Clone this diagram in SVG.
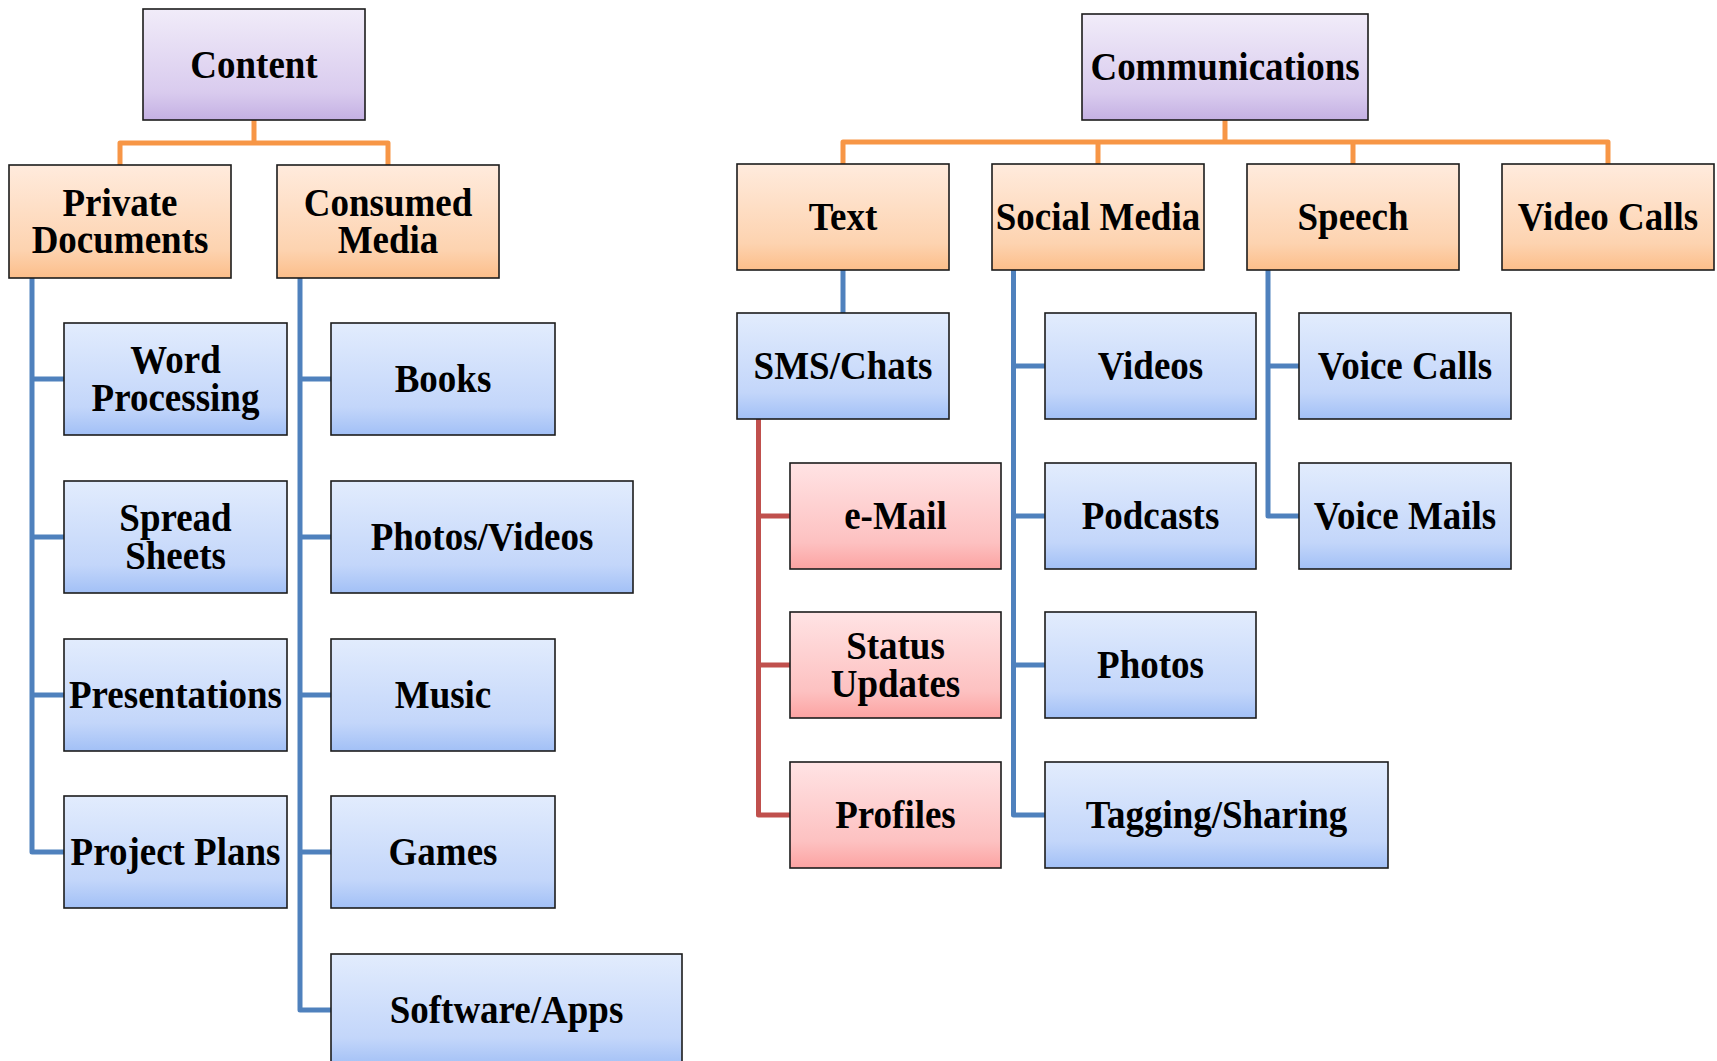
<svg xmlns="http://www.w3.org/2000/svg" width="1717" height="1061" viewBox="0 0 1717 1061">
  <defs>
    <linearGradient id="gPurple" x1="0" y1="0" x2="0" y2="1">
      <stop offset="0" stop-color="#F1ECF9"/>
      <stop offset="0.75" stop-color="#D9CBEE"/>
      <stop offset="1" stop-color="#C4B0E3"/>
    </linearGradient>
    <linearGradient id="gOrange" x1="0" y1="0" x2="0" y2="1">
      <stop offset="0" stop-color="#FFEBDD"/>
      <stop offset="0.75" stop-color="#FDD3B0"/>
      <stop offset="1" stop-color="#FCBE8A"/>
    </linearGradient>
    <linearGradient id="gBlue" x1="0" y1="0" x2="0" y2="1">
      <stop offset="0" stop-color="#E2ECFD"/>
      <stop offset="0.75" stop-color="#C3D6FA"/>
      <stop offset="1" stop-color="#A2C0F6"/>
    </linearGradient>
    <linearGradient id="gRed" x1="0" y1="0" x2="0" y2="1">
      <stop offset="0" stop-color="#FFE3E4"/>
      <stop offset="0.75" stop-color="#FDC1C1"/>
      <stop offset="1" stop-color="#FCA3A2"/>
    </linearGradient>
  </defs>
  <style>
    rect.box { stroke: #1c1c1c; stroke-width: 1.6; }
    rect.purple { fill: url(#gPurple); }
    rect.orange { fill: url(#gOrange); }
    rect.blue { fill: url(#gBlue); }
    rect.red { fill: url(#gRed); }
    text { font-family: "Liberation Serif", "Times New Roman", serif; font-weight: bold; font-size: 37px; fill: #000; text-anchor: middle; }
    .links path { fill: none; stroke-width: 5; stroke-linejoin: round; stroke-linecap: butt; }
    .links .o { stroke: #F79646; }
    .links .b { stroke: #4F81BD; }
    .links .r { stroke: #C0504D; }
  </style>
  <rect width="1717" height="1061" fill="#fff"/>

  <!-- connectors -->
  <g class="links" id="connectors">
    <!-- Content tree -->
    <path class="o" d="M254,120 V143 M120,165 V143 H388 V165"/>
    <path class="b" d="M32,278 V852 H64 M32,379 H64 M32,537 H64 M32,695 H64"/>
    <path class="b" d="M300,278 V1010 H331 M300,379 H331 M300,537 H331 M300,695 H331 M300,852 H331"/>
    <!-- Communications tree -->
    <path class="o" d="M1225,120 V142 M843,164 V142 H1608 V164 M1098,142 V164 M1353,142 V164"/>
    <path class="b" d="M843,270 V313"/>
    <path class="r" d="M758.5,419 V815 H790 M758.5,516 H790 M758.5,665 H790"/>
    <path class="b" d="M1013.5,270 V815 H1045 M1013.5,366 H1045 M1013.5,516 H1045 M1013.5,665 H1045"/>
    <path class="b" d="M1268,270 V516 H1299 M1268,366 H1299"/>
  </g>

  <!-- Content -->
  <g id="content">
    <rect class="box purple" x="143" y="9" width="222" height="111"/>
    <text transform="translate(254,77.5) scale(1,1.1)">Content</text>
  </g>
  <g id="private-documents">
    <rect class="box orange" x="9" y="165" width="222" height="113"/>
    <text transform="translate(120,215.5) scale(1,1.1)"><tspan x="0">Private</tspan><tspan x="0" dy="34.5">Documents</tspan></text>
  </g>
  <g id="consumed-media">
    <rect class="box orange" x="277" y="165" width="222" height="113"/>
    <text transform="translate(388,215.5) scale(1,1.1)"><tspan x="0">Consumed</tspan><tspan x="0" dy="34.5">Media</tspan></text>
  </g>
  <g id="word-processing">
    <rect class="box blue" x="64" y="323" width="223" height="112"/>
    <text transform="translate(175.5,373) scale(1,1.1)"><tspan x="0">Word</tspan><tspan x="0" dy="34.5">Processing</tspan></text>
  </g>
  <g id="spread-sheets">
    <rect class="box blue" x="64" y="481" width="223" height="112"/>
    <text transform="translate(175.5,531) scale(1,1.1)"><tspan x="0">Spread</tspan><tspan x="0" dy="34.5">Sheets</tspan></text>
  </g>
  <g id="presentations">
    <rect class="box blue" x="64" y="639" width="223" height="112"/>
    <text transform="translate(175.5,708) scale(1,1.1)">Presentations</text>
  </g>
  <g id="project-plans">
    <rect class="box blue" x="64" y="796" width="223" height="112"/>
    <text transform="translate(175.5,865) scale(1,1.1)">Project Plans</text>
  </g>
  <g id="books">
    <rect class="box blue" x="331" y="323" width="224" height="112"/>
    <text transform="translate(443,392) scale(1,1.1)">Books</text>
  </g>
  <g id="photos-videos">
    <rect class="box blue" x="331" y="481" width="302" height="112"/>
    <text transform="translate(482,550) scale(1,1.1)">Photos/Videos</text>
  </g>
  <g id="music">
    <rect class="box blue" x="331" y="639" width="224" height="112"/>
    <text transform="translate(443,708) scale(1,1.1)">Music</text>
  </g>
  <g id="games">
    <rect class="box blue" x="331" y="796" width="224" height="112"/>
    <text transform="translate(443,865) scale(1,1.1)">Games</text>
  </g>
  <g id="software-apps">
    <rect class="box blue" x="331" y="954" width="351" height="112"/>
    <text transform="translate(506.5,1023) scale(1,1.1)">Software/Apps</text>
  </g>

  <!-- Communications -->
  <g id="communications">
    <rect class="box purple" x="1082" y="14" width="286" height="106"/>
    <text transform="translate(1225,80) scale(1,1.1)">Communications</text>
  </g>
  <g id="text">
    <rect class="box orange" x="737" y="164" width="212" height="106"/>
    <text transform="translate(843,230) scale(1,1.1)">Text</text>
  </g>
  <g id="social-media">
    <rect class="box orange" x="992" y="164" width="212" height="106"/>
    <text transform="translate(1098,230) scale(1,1.1)">Social Media</text>
  </g>
  <g id="speech">
    <rect class="box orange" x="1247" y="164" width="212" height="106"/>
    <text transform="translate(1353,230) scale(1,1.1)">Speech</text>
  </g>
  <g id="video-calls">
    <rect class="box orange" x="1502" y="164" width="212" height="106"/>
    <text transform="translate(1608,230) scale(1,1.1)">Video Calls</text>
  </g>
  <g id="sms-chats">
    <rect class="box blue" x="737" y="313" width="212" height="106"/>
    <text transform="translate(843,379) scale(1,1.1)">SMS/Chats</text>
  </g>
  <g id="e-mail">
    <rect class="box red" x="790" y="463" width="211" height="106"/>
    <text transform="translate(895.5,529) scale(1,1.1)">e-Mail</text>
  </g>
  <g id="status-updates">
    <rect class="box red" x="790" y="612" width="211" height="106"/>
    <text transform="translate(895.5,659) scale(1,1.1)"><tspan x="0">Status</tspan><tspan x="0" dy="34.5">Updates</tspan></text>
  </g>
  <g id="profiles">
    <rect class="box red" x="790" y="762" width="211" height="106"/>
    <text transform="translate(895.5,828) scale(1,1.1)">Profiles</text>
  </g>
  <g id="videos">
    <rect class="box blue" x="1045" y="313" width="211" height="106"/>
    <text transform="translate(1150.5,379) scale(1,1.1)">Videos</text>
  </g>
  <g id="podcasts">
    <rect class="box blue" x="1045" y="463" width="211" height="106"/>
    <text transform="translate(1150.5,529) scale(1,1.1)">Podcasts</text>
  </g>
  <g id="photos">
    <rect class="box blue" x="1045" y="612" width="211" height="106"/>
    <text transform="translate(1150.5,678) scale(1,1.1)">Photos</text>
  </g>
  <g id="tagging-sharing">
    <rect class="box blue" x="1045" y="762" width="343" height="106"/>
    <text transform="translate(1216.5,828) scale(1,1.1)">Tagging/Sharing</text>
  </g>
  <g id="voice-calls">
    <rect class="box blue" x="1299" y="313" width="212" height="106"/>
    <text transform="translate(1405,379) scale(1,1.1)">Voice Calls</text>
  </g>
  <g id="voice-mails">
    <rect class="box blue" x="1299" y="463" width="212" height="106"/>
    <text transform="translate(1405,529) scale(1,1.1)">Voice Mails</text>
  </g>
</svg>
